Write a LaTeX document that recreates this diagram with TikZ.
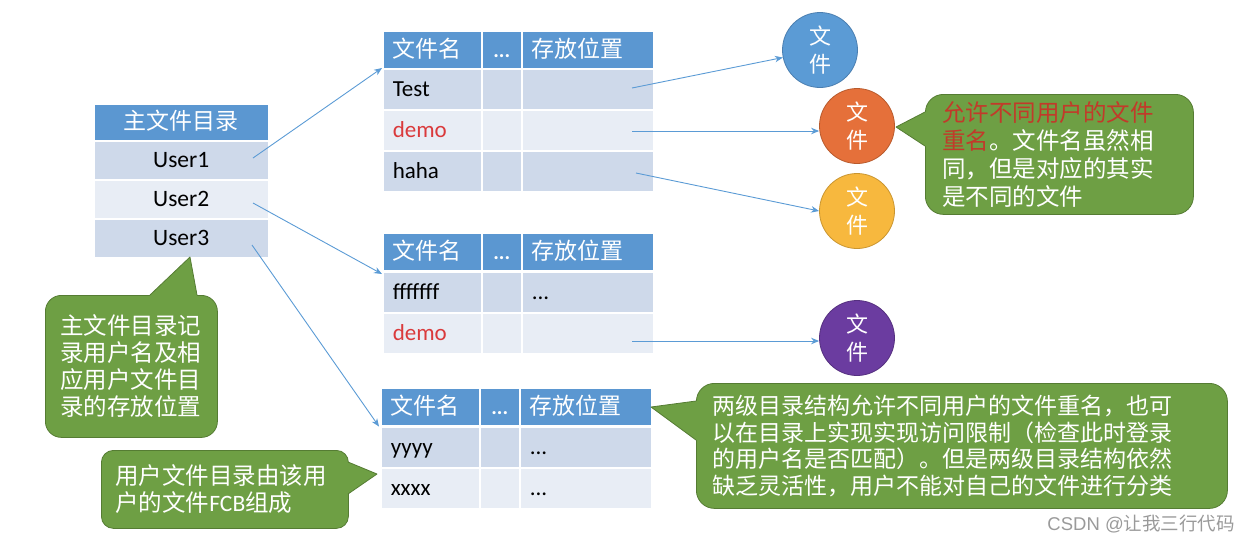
\documentclass[tikz,border=0pt]{standalone}
\usepackage{fontspec}
\setmainfont{Carlito}
\newfontfamily\cjk{Noto Sans CJK SC}
\newfontfamily\lat{Carlito}
\newfontfamily\wmfont{Liberation Sans}
\usetikzlibrary{arrows.meta}
\definecolor{hblue}{HTML}{5B97D1}
\definecolor{rowd}{HTML}{CED9EA}
\definecolor{rowl}{HTML}{E8EDF5}
\definecolor{demored}{HTML}{DA3A3C}
\definecolor{arrowc}{HTML}{5B9BD5}
\definecolor{cgreen}{HTML}{6E9F44}
\definecolor{cgreenD}{HTML}{557C33}
\definecolor{redtxt}{HTML}{C23A2A}
\definecolor{cblue}{HTML}{5B9BD5}\definecolor{cblueD}{HTML}{4A7EB0}
\definecolor{corange}{HTML}{E5703A}\definecolor{corangeD}{HTML}{B85A2C}
\definecolor{cyellow}{HTML}{F7B83E}\definecolor{cyellowD}{HTML}{C99530}
\definecolor{cpurple}{HTML}{6B3CA0}\definecolor{cpurpleD}{HTML}{55307F}
\definecolor{wmgray}{HTML}{9A9A9A}
\tikzset{
 cellbase/.style={draw=white, line width=1.5pt, anchor=north west, inner xsep=10pt, inner ysep=0pt, align=left},
 hcell/.style={cellbase, fill=hblue, text=white, minimum height=38pt, text height=19pt, text depth=4pt, font=\cjk\fontsize{23}{26}\selectfont},
 dcell/.style={cellbase, fill=rowd, minimum height=41pt, text height=18pt, text depth=4pt, font=\lat\fontsize{23}{26}\selectfont},
 lcell/.style={cellbase, fill=rowl, minimum height=41pt, text height=18pt, text depth=4pt, font=\lat\fontsize{23}{26}\selectfont},
 wa/.style={text width=79pt},
 wb/.style={text width=20pt, align=center},
 wc/.style={text width=112pt},
 mcell/.style={draw=white, line width=1.5pt, anchor=north west, minimum width=175pt, inner sep=0pt, align=center, text height=18pt, text depth=4pt},
 mhead/.style={mcell, fill=hblue, text=white, minimum height=37pt, text height=19pt, font=\cjk\fontsize{23}{26}\selectfont},
 mrowd/.style={mcell, fill=rowd, minimum height=39pt, font=\lat\fontsize{23.5}{26}\selectfont},
 mrowl/.style={mcell, fill=rowl, minimum height=39pt, font=\lat\fontsize{23.5}{26}\selectfont},
 fcirc/.style={circle, minimum size=75pt, inner sep=0pt, line width=0.8pt, text=white, align=center, font=\cjk\fontsize{22}{28}\selectfont},
 cbody/.style={fill=cgreen, draw=cgreenD, line width=0.8pt, rounded corners=16pt, anchor=north west, align=left, text=white, inner ysep=0pt},
 tailedge/.style={draw=cgreenD, line width=0.8pt, line join=round},
 arr/.style={draw=arrowc, line width=0.9pt, -{Stealth[length=8pt,width=6.5pt]}},
 hdots/.style={font=\lat\bfseries\fontsize{21}{24}\selectfont},
}
\begin{document}
\begin{tikzpicture}[x=1pt,y=-1pt]
\useasboundingbox (0,0) rectangle (1250,547);

% main file directory
\node[mhead] (mh) at (93,103) {主文件目录};
\node[mrowd] (u1) at (93,140) {User1};
\node[mrowl] (u2) at (93,179) {User2};
\node[mrowd] (u3) at (93,218) {User3};

% table 1
\node[hcell,wa] (t1h1) at (382,30) {文件名};
\node[hcell,wb,hdots] (t1h2) at (481,30) {...};
\node[hcell,wc] (t1h3) at (521,30) {存放位置};
\node[dcell,wa] (t1a1) at (382,68) {Test};
\node[dcell,wb] (t1a2) at (481,68) {};
\node[dcell,wc] (t1a3) at (521,68) {};
\node[lcell,wa,text=demored] (t1b1) at (382,109) {demo};
\node[lcell,wb] (t1b2) at (481,109) {};
\node[lcell,wc] (t1b3) at (521,109) {};
\node[dcell,wa] (t1c1) at (382,150) {haha};
\node[dcell,wb] (t1c2) at (481,150) {};
\node[dcell,wc] (t1c3) at (521,150) {};

% table 2
\node[hcell,wa] (t2h1) at (382,232) {文件名};
\node[hcell,wb,hdots] (t2h2) at (481,232) {...};
\node[hcell,wc] (t2h3) at (521,232) {存放位置};
\node[dcell,wa] (t2a1) at (382,271) {fffffff};
\node[dcell,wb] (t2a2) at (481,271) {};
\node[dcell,wc] (t2a3) at (521,271) {...};
\node[lcell,wa,text=demored] (t2b1) at (382,312) {demo};
\node[lcell,wb] (t2b2) at (481,312) {};
\node[lcell,wc] (t2b3) at (521,312) {};

% table 3
\node[hcell,wa] (t3h1) at (380,387) {文件名};
\node[hcell,wb,hdots] (t3h2) at (479,387) {...};
\node[hcell,wc] (t3h3) at (519,387) {存放位置};
\node[dcell,wa] (t3a1) at (380,426) {yyyy};
\node[dcell,wb] (t3a2) at (479,426) {};
\node[dcell,wc] (t3a3) at (519,426) {...};
\node[lcell,wa] (t3b1) at (380,467) {xxxx};
\node[lcell,wb] (t3b2) at (479,467) {};
\node[lcell,wc] (t3b3) at (519,467) {...};

% file circles
\node[fcirc, fill=cblue, draw=cblueD] (b1) at (820,50) {文\\件};
\node[fcirc, fill=corange, draw=corangeD] (b2) at (857,126) {文\\件};
\node[fcirc, fill=cyellow, draw=cyellowD] (b3) at (857,211) {文\\件};
\node[fcirc, fill=cpurple, draw=cpurpleD] (b4) at (857,338) {文\\件};

% connectors
\coordinate (s1) at (253,158);
\coordinate (s2) at (253,203);
\coordinate (s3) at (252,245);
\draw[arr] (s1) -- (t1a1.north west);
\draw[arr] (s2) -- ([yshift=-3pt]t2a1.north west);
\draw[arr] (s3) -- ([xshift=-1pt]t3h1.south west);
\coordinate (p1) at (632,88);
\coordinate (p2) at (632,131);
\coordinate (p3) at (636,173);
\coordinate (p4) at (632,341);
\draw[arr] (p1) -- (b1);
\draw[arr] (p2) -- (p2 -| b2.west);
\draw[arr] (p3) -- (b3.west);
\draw[arr] (p4) -- (p4 -| b4.west);

% callout 1
\node[cbody, minimum width=172pt, minimum height=142pt, text width=142pt, inner xsep=15pt, font=\cjk\fontsize{23.5}{27}\selectfont] (c1) at (45,295)
 {主文件目录记\\录用户名及相\\应用户文件目\\录的存放位置};
\coordinate (c1a) at (150,295);
\coordinate (c1t) at (190,257);
\coordinate (c1b) at (197,295);
\fill[cgreen] (c1a) -- (c1t) -- (c1b) -- (197,299) -- (150,299) -- cycle;
\draw[tailedge] (c1a) -- (c1t) -- (c1b);

% callout 2
\node[cbody, rounded corners=12pt, minimum width=247pt, minimum height=78pt, text width=219pt, inner xsep=14pt, font=\cjk\fontsize{23.5}{27}\selectfont] (c2) at (101,450)
 {用户文件目录由该用\\户的文件{\lat FCB}组成};
\coordinate (c2a) at (348,462);
\coordinate (c2t) at (377,474);
\coordinate (c2b) at (348,494);
\fill[cgreen] (c2a) -- (c2t) -- (c2b) -- (344,494) -- (344,462) -- cycle;
\draw[tailedge] (c2a) -- (c2t) -- (c2b);

% callout 3
\node[cbody, rounded corners=18pt, minimum width=268pt, minimum height=120pt, text width=234pt, inner xsep=17pt, font=\cjk\fontsize{23.5}{28}\selectfont] (c3) at (925,94)
 {{\color{redtxt}允许不同用户的文件}\\{\color{redtxt}重名}。文件名虽然相\\同，但是对应的其实\\是不同的文件};
\coordinate (c3a) at (925,112);
\coordinate (c3t) at (896,127);
\coordinate (c3b) at (925,146);
\fill[cgreen] (c3a) -- (c3t) -- (c3b) -- (929,146) -- (929,112) -- cycle;
\draw[tailedge] (c3a) -- (c3t) -- (c3b);

% callout 4
\node[cbody, rounded corners=18pt, minimum width=531pt, minimum height=125pt, text width=499pt, inner xsep=16pt, font=\cjk\fontsize{23}{26.7}\selectfont] (c4) at (696,383)
 {两级目录结构允许不同用户的文件重名，也可\\以在目录上实现实现访问限制（检查此时登录\\的用户名是否匹配）。但是两级目录结构依然\\缺乏灵活性，用户不能对自己的文件进行分类};
\coordinate (c4a) at (696,401);
\coordinate (c4t) at (651,407);
\coordinate (c4b) at (696,440);
\fill[cgreen] (c4a) -- (c4t) -- (c4b) -- (700,440) -- (700,401) -- cycle;
\draw[tailedge] (c4a) -- (c4t) -- (c4b);

% watermark
\node[anchor=east, text=wmgray, font=\fontsize{18.5}{20}\selectfont, inner sep=0pt] (wm) at (1235,524) {{\wmfont CSDN @}{\cjk 让我三行代码}};
\end{tikzpicture}
\end{document}
